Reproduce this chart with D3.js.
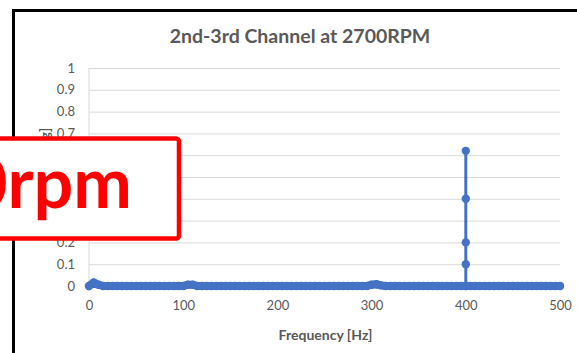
<!DOCTYPE html>
<html>
<head>
<meta charset="utf-8">
<script src="https://cdnjs.cloudflare.com/ajax/libs/d3/7.8.5/d3.min.js"></script>
<style>
    body { margin: 0; background: #ffffff; }
    text { font-family: Lato, "Open Sans", sans-serif; }
</style>
</head>
<body>
<div id="chart-area"></div>
<script>
//============================DATA============================
// frequency points of the 0 Hz line [Hz]
var lineFreq = [0, 5, 10, 15, 20, 25, 30, 35, 40, 45,
    50, 55, 60, 65, 70, 75, 80, 85, 90, 95,
    100, 105, 110, 115, 120, 125, 130, 135, 140, 145,
    150, 155, 160, 165, 170, 175, 180, 185, 190, 195,
    200, 205, 210, 215, 220, 225, 230, 235, 240, 245,
    250, 255, 260, 265, 270, 275, 280, 285, 290, 295,
    300, 305, 310, 315, 320, 325, 330, 335, 340, 345,
    350, 355, 360, 365, 370, 375, 380, 385, 390, 395,
    400, 405, 410, 415, 420, 425, 430, 435, 440, 445,
    450, 455, 460, 465, 470, 475, 480, 485, 490, 495,
    500];
// amplitude at each of those points
var lineAmp = [0, 0.016, 0.006, 0, 0, 0, 0, 0, 0, 0,
    0, 0, 0, 0, 0, 0, 0, 0, 0, 0,
    0, 0.006, 0.006, 0, 0, 0, 0, 0, 0, 0,
    0, 0, 0, 0, 0, 0, 0, 0, 0, 0,
    0, 0, 0, 0, 0, 0, 0, 0, 0, 0,
    0, 0, 0, 0, 0, 0, 0, 0, 0, 0,
    0.006, 0.008, 0.003, 0, 0, 0, 0, 0, 0, 0,
    0, 0, 0, 0, 0, 0, 0, 0, 0, 0,
    0, 0, 0, 0, 0, 0, 0, 0, 0, 0,
    0, 0, 0, 0, 0, 0, 0, 0, 0, 0,
    0];
// the spike at 400 Hz
var spikeFreq = [400, 400, 400, 400, 400];
var spikeAmp = [0, 0.1, 0.2, 0.4, 0.62];

var xTicks = [0, 100, 200, 300, 400, 500];
var yTicks = [0, 0.1, 0.2, 0.3, 0.4, 0.5, 0.6, 0.7, 0.8, 0.9, 1];

//============================GLOBALS============================
var margins = { left: 89, right: 17, top: 68, bottom: 67 };
var width = 577 - margins.left - margins.right;
var height = 353 - margins.top - margins.bottom;

var blue = "#4472c4";
var grey = "#595959";

var svg = d3.select("#chart-area")
    .append("svg")
    .attr("width", 577)
    .attr("height", 353);

//chart area outline
svg.append("rect")
    .attr("x", 13.5)
    .attr("y", 10.5)
    .attr("width", 620)
    .attr("height", 400)
    .attr("fill", "#ffffff")
    .attr("stroke", "#000000")
    .attr("stroke-width", 3);

//title
svg.append("text")
    .attr("x", 300)
    .attr("y", 43)
    .attr("text-anchor", "middle")
    .attr("font-size", "19.5px")
    .attr("font-weight", "bold")
    .attr("fill", grey)
    .text("2nd-3rd Channel at 2700RPM");

var g = svg.append("g")
    .attr("transform", "translate(" + margins.left + ", " + margins.top + ")");

//scales
var x = d3.scaleLinear()
    .domain([0, 500])
    .range([0, width]);
var y = d3.scaleLinear()
    .domain([0, 1])
    .range([height, 0]);

//gridlines
g.append("g")
    .attr("class", "grid")
    .call(d3.axisLeft(y).tickValues(yTicks).tickSize(-width).tickFormat(""))
    .call(function(a){ a.select(".domain").remove(); })
    .selectAll("line")
    .attr("stroke", "#d9d9d9");

//vertical axis line
g.append("line")
    .attr("x1", 0).attr("x2", 0)
    .attr("y1", 0).attr("y2", height)
    .attr("stroke", "#d9d9d9");

//y axis labels
var yAxis = g.append("g")
    .call(d3.axisLeft(y).tickValues(yTicks).tickSize(0).tickPadding(14).tickFormat(d3.format("")));
yAxis.select(".domain").remove();
yAxis.selectAll("text")
    .attr("font-family", "Lato")
    .attr("font-size", "13px")
    .attr("fill", grey);

//x axis labels
var xAxis = g.append("g")
    .attr("transform", "translate(0, " + height + ")")
    .call(d3.axisBottom(x).tickValues(xTicks).tickSize(0).tickPadding(15));
xAxis.select(".domain").remove();
xAxis.selectAll("text")
    .attr("font-family", "Lato")
    .attr("font-size", "13px")
    .attr("fill", grey);

//x axis title
g.append("text")
    .attr("x", width / 2 + 1)
    .attr("y", height + 54)
    .attr("text-anchor", "middle")
    .attr("font-size", "14px")
    .attr("font-weight", "bold")
    .attr("fill", grey)
    .text("Frequency [Hz]");

//y axis title (mostly hidden behind the label box)
svg.append("text")
    .attr("transform", "rotate(-90)")
    .attr("x", -128)
    .attr("y", 50)
    .attr("text-anchor", "end")
    .attr("font-size", "13px")
    .attr("font-weight", "bold")
    .attr("fill", grey)
    .text("Acceleration [g]");

//series
var base = lineFreq.map(function(f, i){ return { f: f, a: lineAmp[i] }; });
var spike = spikeFreq.map(function(f, i){ return { f: f, a: spikeAmp[i] }; });

var line = d3.line()
    .x(function(d){ return x(d.f); })
    .y(function(d){ return y(d.a); });

g.append("path")
    .datum(spike)
    .attr("d", line)
    .attr("fill", "none")
    .attr("stroke", blue)
    .attr("stroke-width", 3);
g.append("path")
    .datum(base)
    .attr("d", line)
    .attr("fill", "none")
    .attr("stroke", blue)
    .attr("stroke-width", 8)
    .attr("stroke-linecap", "round")
    .attr("stroke-linejoin", "round");

g.selectAll("circle")
    .data(base.concat(spike))
    .enter()
    .append("circle")
    .attr("cx", function(d){ return x(d.f); })
    .attr("cy", function(d){ return y(d.a); })
    .attr("r", 4.2)
    .attr("fill", blue);

//red label box on top
svg.append("rect")
    .attr("x", -20)
    .attr("y", 138.5)
    .attr("width", 199)
    .attr("height", 100)
    .attr("rx", 3)
    .attr("fill", "#ffffff")
    .attr("stroke", "#ff0000")
    .attr("stroke-width", 4.5);

svg.append("text")
    .attr("x", 132)
    .attr("y", 208)
    .attr("text-anchor", "end")
    .attr("font-size", "70px")
    .attr("font-weight", "bold")
    .attr("fill", "#ff0000")
    .text("2700rpm");
</script>
</body>
</html>
